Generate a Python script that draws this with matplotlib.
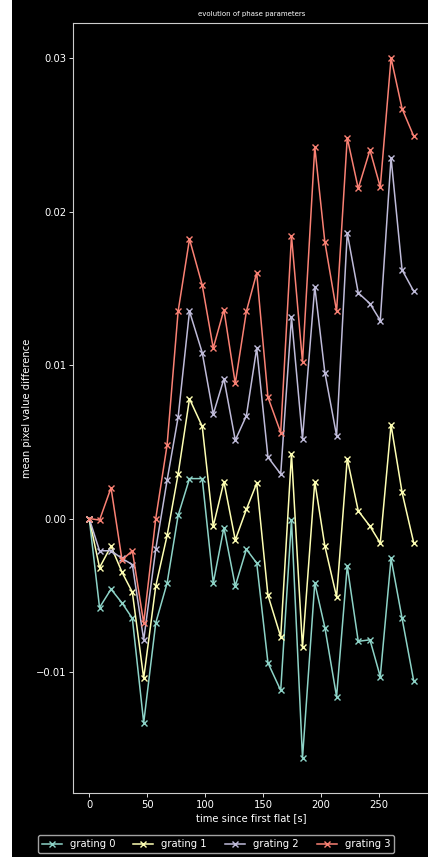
import numpy as np
import matplotlib
matplotlib.use('Agg')
import matplotlib.pyplot as plt

# time of each flat relative to the first one [s]
times = [0.0, 8.9, 18.8, 28.3, 37.2, 47.0, 57.4, 67.2, 76.7, 86.5,
         97.5, 107.0, 116.2, 126.0, 135.6, 144.5, 154.2, 165.2, 174.5, 184.0,
         194.6, 203.3, 213.4, 222.6, 232.1, 242.2, 251.1, 260.4, 269.9, 280.0]

grating_0 = [0.0, -0.0058, -0.0046, -0.0055, -0.0065, -0.0133, -0.0068, -0.0042, 0.0002, 0.0026,
             0.0026, -0.0042, -0.0006, -0.0044, -0.0020, -0.0029, -0.0094, -0.0112, -0.0001, -0.0156,
             -0.0042, -0.0071, -0.0116, -0.0031, -0.0080, -0.0079, -0.0103, -0.0026, -0.0065, -0.0106]
grating_1 = [0.0, -0.0032, -0.0018, -0.0035, -0.0048, -0.0104, -0.0044, -0.0011, 0.0029, 0.0078,
             0.0060, -0.0005, 0.0024, -0.0014, 0.0006, 0.0023, -0.0050, -0.0077, 0.0042, -0.0084,
             0.0024, -0.0018, -0.0051, 0.0039, 0.0005, -0.0005, -0.0016, 0.0061, 0.0017, -0.0016]
grating_2 = [0.0, -0.0021, -0.0021, -0.0026, -0.0030, -0.0079, -0.0020, 0.0025, 0.0066, 0.0135,
             0.0108, 0.0068, 0.0091, 0.0051, 0.0067, 0.0111, 0.0040, 0.0029, 0.0131, 0.0052,
             0.0151, 0.0095, 0.0054, 0.0186, 0.0147, 0.0140, 0.0129, 0.0235, 0.0162, 0.0148]
grating_3 = [0.0, -0.0001, 0.0020, -0.0027, -0.0021, -0.0068, 0.0000, 0.0048, 0.0135, 0.0182,
             0.0152, 0.0111, 0.0136, 0.0088, 0.0135, 0.0160, 0.0079, 0.0056, 0.0184, 0.0102,
             0.0242, 0.0180, 0.0135, 0.0248, 0.0215, 0.0240, 0.0216, 0.0300, 0.0267, 0.0249]

series = [grating_0, grating_1, grating_2, grating_3]
labels = ['grating 0', 'grating 1', 'grating 2', 'grating 3']

plt.style.use('dark_background')
fs = 7.2
plt.rcParams['font.size'] = fs
plt.rcParams['xtick.labelsize'] = fs
plt.rcParams['ytick.labelsize'] = fs
plt.rcParams['axes.labelsize'] = fs
plt.rcParams['legend.fontsize'] = fs

W, H = 428, 857
fig = plt.figure(figsize=(W / 100, H / 100), dpi=100)
fig.patches.append(plt.Rectangle((0, 0), 12 / W, 1, transform=fig.transFigure,
                                 facecolor='white', edgecolor='none'))

ax = fig.add_axes([73 / W, 64 / H, 357 / W, 770 / H])
for y, name in zip(series, labels):
    ax.plot(times, y, marker='x', markersize=4, markeredgewidth=1.0,
            linewidth=1.1, label=name)

ax.set_title('evolution of phase parameters', fontsize=5, pad=5)
ax.set_xlabel('time since first flat [s]', labelpad=2)
ax.set_ylabel('mean pixel value difference', labelpad=2.5)
ax.tick_params(length=3, width=0.6, pad=2)
for sp in ax.spines.values():
    sp.set_linewidth(0.8)
    sp.set_color('0.8')

fig.legend(loc='lower center', bbox_to_anchor=(216 / W, 4 / H), ncol=4,
           borderaxespad=0, handlelength=2, columnspacing=1.8)

plt.savefig('out.png', dpi=100)
